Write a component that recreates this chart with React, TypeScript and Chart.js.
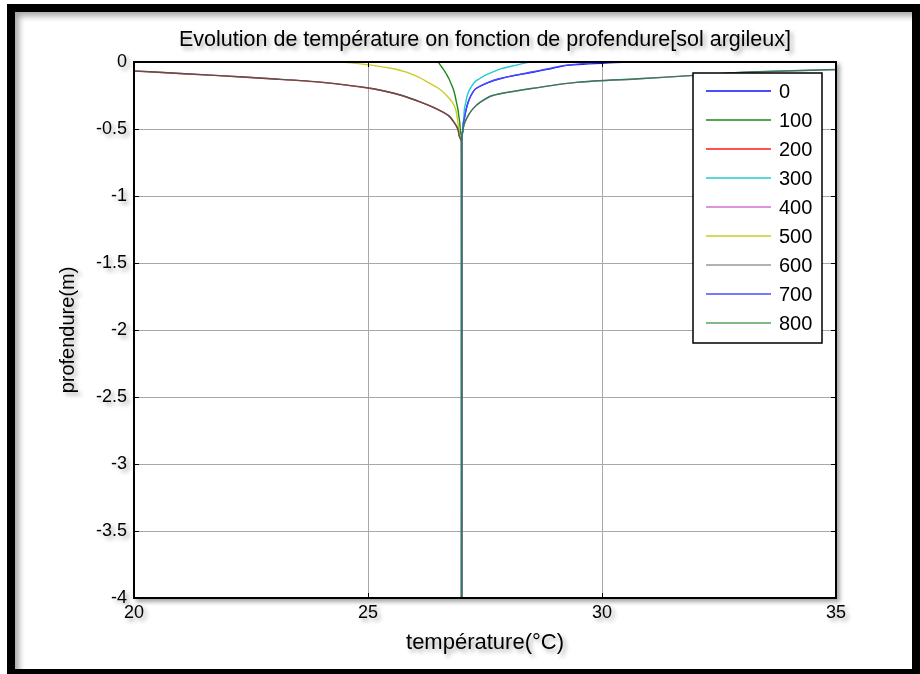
import React, { useEffect, useRef } from 'react';
import { Chart, registerables } from 'chart.js';

Chart.register(...registerables);

const chartTitle = 'Evolution de température on fonction de profendure[sol argileux]';
const xAxisTitle = 'température(°C)';
const yAxisTitle = 'profendure(m)';

const seriesLabels = ['0', '100', '200', '300', '400', '500', '600', '700', '800'];
const seriesColors = ['#1010ff', '#1a8a1a', '#ff1a1a', '#22cccc', '#d070d0', '#cccc22', '#555555', '#4a4aff', '#2f7f4f'];
const legendColors = ['#1010ff', '#1a8a1a', '#ff1a1a', '#22cccc', '#d070d0', '#cccc22', '#999999', '#4a4aff', '#5aa05a'];

// depth levels (m) shared by every profile
const depthLevels = [0, -0.025, -0.05, -0.075, -0.1, -0.125, -0.15, -0.2, -0.25, -0.3, -0.35, -0.4, -0.45, -0.5, -0.55, -0.6, -4];

// temperatures (°C) at each depth level, one array per time
const temp0 = [30.5, 29.25, 28.9, 28.55, 28.15, 27.82, 27.6, 27.3, 27.2, 27.14, 27.1, 27.07, 27.04, 27.03, 27.01, 27, 27];
const temp100 = [26.5, 26.55, 26.6, 26.65, 26.69, 26.73, 26.76, 26.82, 26.86, 26.89, 26.92, 26.94, 26.96, 26.97, 26.99, 27, 27];
const temp200 = [16, 17.5, 19, 20.4, 21.7, 22.9, 23.95, 25.1, 25.72, 26.12, 26.46, 26.72, 26.84, 26.92, 26.95, 27, 27];
const temp300 = [28.45, 28.15, 27.85, 27.66, 27.5, 27.38, 27.28, 27.18, 27.12, 27.09, 27.06, 27.05, 27.04, 27.03, 27.01, 27, 27];
const temp400 = [42, 38.5, 35.8, 33.2, 32.0, 30.8, 29.5, 28.46, 27.67, 27.4, 27.24, 27.14, 27.07, 27.03, 27.01, 27, 27];
const temp500 = [24.45, 25.1, 25.55, 25.82, 26.0, 26.15, 26.27, 26.52, 26.68, 26.8, 26.87, 26.9, 26.92, 26.94, 26.96, 27, 27];
const temp600 = [16.2, 17.6, 19.1, 20.45, 21.75, 22.95, 24.0, 25.12, 25.73, 26.13, 26.47, 26.72, 26.84, 26.92, 26.95, 27, 27];
const temp700 = [30.0, 29.2, 28.85, 28.5, 28.12, 27.8, 27.58, 27.3, 27.2, 27.14, 27.1, 27.07, 27.04, 27.03, 27.01, 27, 27];
const temp800 = [41.5, 38.3, 35.7, 33.15, 31.95, 30.78, 29.48, 28.45, 27.66, 27.4, 27.24, 27.14, 27.07, 27.03, 27.01, 27, 27];

const seriesTemps = [temp0, temp100, temp200, temp300, temp400, temp500, temp600, temp700, temp800];

const xMin = 20;
const xMax = 35;
const xStep = 5;
const yMin = -4;
const yMax = 0;
const yStep = 0.5;

const FONT = "'Liberation Sans', Arial, sans-serif";

const matlabPlugin = {
  id: 'matlabLook',
  beforeDraw(chart: any) {
    const { ctx, chartArea } = chart;
    const { left, top, right, bottom } = chartArea;
    ctx.save();
    ctx.fillStyle = '#ffffff';
    ctx.fillRect(left, top, right - left, bottom - top);
    ctx.restore();
  },
  afterDatasetsDraw(chart: any) {
    const { ctx, chartArea, scales } = chart;
    const { left, top, right, bottom } = chartArea;
    ctx.save();
    // inner tick marks
    ctx.strokeStyle = '#000';
    ctx.lineWidth = 1;
    const tl = 5;
    scales.x.ticks.forEach((t: any) => {
      const px = Math.round(scales.x.getPixelForValue(t.value)) + 0.5;
      ctx.beginPath();
      ctx.moveTo(px, bottom);
      ctx.lineTo(px, bottom - tl);
      ctx.moveTo(px, top);
      ctx.lineTo(px, top + tl);
      ctx.stroke();
    });
    scales.y.ticks.forEach((t: any) => {
      const py = Math.round(scales.y.getPixelForValue(t.value)) + 0.5;
      ctx.beginPath();
      ctx.moveTo(left, py);
      ctx.lineTo(left + tl, py);
      ctx.moveTo(right, py);
      ctx.lineTo(right - tl, py);
      ctx.stroke();
    });
    // axes box
    ctx.lineWidth = 2;
    ctx.strokeRect(left, top, right - left, bottom - top);

    // title, centred over the plot area as in the original figure
    ctx.fillStyle = '#000';
    ctx.font = `21.5px ${FONT}`;
    ctx.textAlign = 'center';
    ctx.textBaseline = 'middle';
    ctx.fillText(chartTitle, (left + right) / 2, top - 22);

    // legend
    const bx = right - 143;
    const by = top + 11;
    const bw = 129;
    const bh = 270;
    ctx.fillStyle = '#ffffff';
    ctx.fillRect(bx, by, bw, bh);
    ctx.lineWidth = 1.5;
    ctx.strokeStyle = '#000';
    ctx.strokeRect(bx, by, bw, bh);
    ctx.font = `20px ${FONT}`;
    ctx.textBaseline = 'middle';
    ctx.textAlign = 'left';
    seriesLabels.forEach((lab, i) => {
      const ry = by + 18 + i * 29;
      ctx.strokeStyle = legendColors[i];
      ctx.lineWidth = 1.5;
      ctx.beginPath();
      ctx.moveTo(bx + 13, ry);
      ctx.lineTo(bx + 78, ry);
      ctx.stroke();
      ctx.fillStyle = '#000';
      ctx.fillText(lab, bx + 86, ry + 1);
    });
    ctx.restore();
  },
};

export default function App() {
  const canvasRef = useRef<HTMLCanvasElement | null>(null);

  useEffect(() => {
    if (!canvasRef.current) return;
    const datasets = seriesLabels.map((lab, i) => ({
      label: lab,
      data: depthLevels.map((d, k) => ({ x: seriesTemps[i][k], y: d })),
      borderColor: seriesColors[i],
      backgroundColor: seriesColors[i],
      borderWidth: 1.4,
      pointRadius: 0,
      showLine: true,
      fill: false,
      tension: 0.25,
      order: seriesLabels.length - i,
    }));

    const chart = new Chart(canvasRef.current, {
      type: 'line',
      data: { datasets },
      options: {
        animation: false,
        responsive: false,
        maintainAspectRatio: false,
        layout: { padding: { left: 56.5, right: 84, top: 62, bottom: 0 } },
        plugins: {
          legend: { display: false },
          tooltip: { enabled: false },
          title: { display: false },
        },
        scales: {
          x: {
            type: 'linear',
            min: xMin,
            max: xMax,
            ticks: {
              stepSize: xStep,
              color: '#000',
              padding: 4,
              font: { family: FONT, size: 18 },
              callback: (v: any) => String(v),
            },
            grid: { color: '#a8a8a8', lineWidth: 1, drawTicks: false },
            border: { display: false },
            title: {
              display: true,
              text: xAxisTitle,
              color: '#000',
              font: { family: FONT, size: 22 },
              padding: { top: 0, bottom: 17.8 },
            },
            afterFit: (s: any) => {
              s.height = 76;
            },
          },
          y: {
            type: 'linear',
            min: yMin,
            max: yMax,
            ticks: {
              stepSize: yStep,
              color: '#000',
              padding: 7,
              font: { family: FONT, size: 18 },
              callback: (v: any) => String(Math.round(v * 10) / 10),
            },
            grid: { color: '#a8a8a8', lineWidth: 1, drawTicks: false },
            border: { display: false },
            title: {
              display: true,
              text: yAxisTitle,
              color: '#000',
              font: { family: FONT, size: 20 },
              padding: { top: 0, bottom: 0 },
            },
            afterFit: (s: any) => {
              s.width = 77.5;
            },
          },
        },
      } as any,
      plugins: [matlabPlugin],
    });
    return () => chart.destroy();
  }, []);

  return (
    <div
      style={{
        position: 'fixed',
        left: 0,
        top: 0,
        width: 920,
        height: 674,
        overflow: 'hidden',
        background: '#fff',
      }}
    >
      <div
        style={{
          position: 'absolute',
          left: 7,
          top: 4,
          width: 913,
          height: 673,
          border: '8px solid #000',
          boxSizing: 'border-box',
          boxShadow: 'inset 6px 6px 6px -2px rgba(0,0,0,0.35)',
        }}
      />
      <canvas
        ref={canvasRef}
        width={920}
        height={674}
        style={{
          position: 'absolute',
          left: 0,
          top: 0,
          width: 920,
          height: 674,
          filter: 'drop-shadow(3px 3px 2px rgba(0,0,0,0.35))',
        }}
      />
    </div>
  );
}
